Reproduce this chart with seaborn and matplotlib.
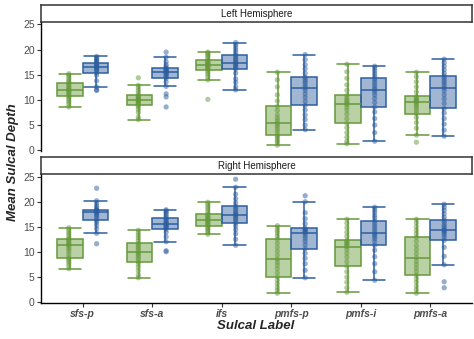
import matplotlib
matplotlib.use("Agg")
import matplotlib.pyplot as plt
import seaborn as sns
import pandas as pd
import numpy as np
from matplotlib.colors import to_rgba

# ---------------- data ----------------
labels = ["sfs-p", "sfs-a", "ifs", "pmfs-p", "pmfs-i", "pmfs-a"]
groups = ["Group 1", "Group 2"]
hemis = ["Left Hemisphere", "Right Hemisphere"]
colors = ["#66993A", "#2E5E9F"]

# Left hemisphere, group 1 (green)
L_sfsp_g1 = [8.6, 9.2, 9.6, 10.0, 10.4, 10.7, 11.0, 11.3, 11.6, 11.8, 12.0, 12.2, 12.5, 12.8, 13.1, 13.4, 13.7, 14.1, 14.5, 14.9, 15.2]
L_sfsa_g1 = [6.1, 6.6, 7.5, 8.1, 8.6, 8.9, 9.2, 9.4, 9.6, 9.8, 9.9, 10.1, 10.3, 10.5, 10.7, 10.9, 11.4, 11.9, 12.4, 12.9, 14.4]
L_ifs_g1 = [10.1, 14.0, 14.6, 15.1, 15.5, 15.9, 16.2, 16.4, 16.6, 16.8, 17.0, 17.2, 17.4, 17.5, 17.7, 17.9, 18.3, 18.7, 19.0, 19.3, 19.5]
L_pmfsp_g1 = [1.0, 1.5, 1.9, 2.3, 2.7, 3.0, 3.6, 4.1, 4.6, 5.0, 5.4, 5.9, 6.4, 7.0, 7.9, 8.7, 9.8, 11.0, 12.6, 14.0, 15.5]
L_pmfsi_g1 = [1.3, 1.8, 2.6, 3.5, 4.5, 5.4, 6.3, 7.2, 8.0, 8.6, 9.1, 9.4, 9.7, 10.0, 10.4, 10.9, 11.9, 13.0, 14.3, 15.6, 17.1]
L_pmfsa_g1 = [1.6, 3.0, 4.4, 5.5, 6.5, 7.3, 7.9, 8.4, 8.8, 9.2, 9.5, 9.7, 9.9, 10.1, 10.4, 10.7, 11.6, 12.6, 13.6, 14.6, 15.5]
# Left hemisphere, group 2 (blue)
L_sfsp_g2 = [11.9, 12.0, 12.6, 13.8, 14.9, 15.4, 15.7, 16.0, 16.2, 16.4, 16.5, 16.7, 16.9, 17.1, 17.2, 17.4, 17.7, 17.9, 18.2, 18.4, 18.65]
L_sfsa_g2 = [8.6, 10.6, 11.2, 12.7, 13.6, 14.3, 14.6, 14.9, 15.1, 15.3, 15.5, 15.7, 15.8, 16.0, 16.1, 16.3, 16.6, 17.0, 17.6, 18.5, 19.5]
L_ifs_g2 = [12.0, 12.6, 13.5, 14.2, 15.3, 16.1, 16.4, 16.7, 16.9, 17.2, 17.4, 17.7, 18.0, 18.3, 18.7, 19.0, 19.5, 20.0, 20.5, 21.0, 21.4]
L_pmfsp_g2 = [4.1, 5.0, 6.1, 7.0, 8.0, 8.9, 9.7, 10.5, 11.2, 11.9, 12.4, 12.8, 13.3, 13.7, 14.1, 14.5, 15.3, 16.2, 17.0, 18.0, 19.0]
L_pmfsi_g2 = [1.8, 3.5, 5.0, 6.3, 7.6, 8.6, 9.5, 10.3, 11.0, 11.6, 12.0, 12.4, 12.9, 13.4, 13.9, 14.3, 14.8, 15.3, 15.8, 16.3, 16.7]
L_pmfsa_g2 = [2.8, 4.0, 5.2, 6.3, 7.4, 8.3, 9.3, 10.2, 11.0, 11.8, 12.4, 12.9, 13.4, 13.8, 14.3, 14.7, 15.3, 16.0, 16.7, 17.4, 18.1]
# Right hemisphere, group 1 (green)
R_sfsp_g1 = [6.6, 7.2, 7.7, 8.1, 8.5, 8.8, 9.4, 10.0, 10.5, 10.9, 11.3, 11.5, 11.8, 12.1, 12.4, 12.6, 13.0, 13.5, 13.9, 14.4, 14.8]
R_sfsa_g1 = [4.8, 5.4, 6.2, 6.9, 7.5, 8.0, 8.5, 8.9, 9.3, 9.6, 9.9, 10.3, 10.7, 11.0, 11.4, 11.7, 12.3, 12.8, 13.3, 13.8, 14.3]
R_ifs_g1 = [13.5, 13.9, 14.3, 14.6, 14.9, 15.2, 15.5, 15.7, 15.9, 16.2, 16.4, 16.6, 16.8, 17.0, 17.3, 17.6, 18.1, 18.6, 19.0, 19.5, 19.9]
R_pmfsp_g1 = [1.7, 2.3, 2.9, 3.6, 4.3, 5.0, 5.8, 6.6, 7.3, 7.9, 8.5, 9.3, 10.1, 10.9, 11.7, 12.5, 13.1, 13.7, 14.2, 14.7, 15.2]
R_pmfsi_g1 = [1.9, 2.8, 3.9, 4.9, 6.0, 7.1, 8.0, 8.9, 9.7, 10.4, 11.0, 11.3, 11.5, 11.8, 12.0, 12.3, 13.1, 13.9, 14.8, 15.7, 16.5]
R_pmfsa_g1 = [1.7, 2.4, 3.1, 3.9, 4.6, 5.3, 6.0, 6.7, 7.4, 8.1, 8.8, 9.6, 10.4, 11.2, 12.1, 12.9, 13.6, 14.3, 15.0, 15.8, 16.5]
# Right hemisphere, group 2 (blue)
R_sfsp_g2 = [11.6, 13.7, 14.6, 15.3, 15.9, 16.3, 16.7, 17.1, 17.4, 17.7, 17.9, 18.0, 18.1, 18.2, 18.3, 18.4, 18.8, 19.2, 19.7, 20.2, 22.7]
R_sfsa_g2 = [10.0, 10.2, 12.0, 13.0, 13.9, 14.5, 14.8, 15.0, 15.2, 15.4, 15.6, 15.8, 16.0, 16.3, 16.6, 16.8, 17.2, 17.6, 17.9, 18.2, 18.4]
R_ifs_g2 = [11.3, 12.5, 13.6, 14.4, 15.1, 15.7, 16.1, 16.5, 16.8, 17.1, 17.4, 17.7, 18.0, 18.4, 18.8, 19.1, 19.8, 20.6, 21.5, 22.9, 24.5]
R_pmfsp_g2 = [4.8, 6.3, 7.6, 8.7, 9.7, 10.6, 11.4, 12.1, 12.7, 13.2, 13.7, 13.9, 14.1, 14.3, 14.5, 14.7, 15.6, 16.6, 17.8, 20.0, 21.2]
R_pmfsi_g2 = [4.3, 6.0, 7.6, 9.0, 10.3, 11.3, 12.0, 12.6, 13.0, 13.4, 13.7, 14.2, 14.7, 15.2, 15.7, 16.2, 16.8, 17.3, 17.9, 18.4, 18.9]
R_pmfsa_g2 = [2.8, 4.0, 7.4, 9.1, 10.9, 12.3, 12.9, 13.4, 13.8, 14.1, 14.3, 14.6, 15.0, 15.4, 15.9, 16.3, 16.9, 17.6, 18.3, 18.9, 19.5]

series = {
    ("Left Hemisphere", "Group 1"): [L_sfsp_g1, L_sfsa_g1, L_ifs_g1, L_pmfsp_g1, L_pmfsi_g1, L_pmfsa_g1],
    ("Left Hemisphere", "Group 2"): [L_sfsp_g2, L_sfsa_g2, L_ifs_g2, L_pmfsp_g2, L_pmfsi_g2, L_pmfsa_g2],
    ("Right Hemisphere", "Group 1"): [R_sfsp_g1, R_sfsa_g1, R_ifs_g1, R_pmfsp_g1, R_pmfsi_g1, R_pmfsa_g1],
    ("Right Hemisphere", "Group 2"): [R_sfsp_g2, R_sfsa_g2, R_ifs_g2, R_pmfsp_g2, R_pmfsi_g2, R_pmfsa_g2],
}
rows = []
for (hemi, grp), lists in series.items():
    for lab, vals in zip(labels, lists):
        for v in vals:
            rows.append({"hemi": hemi, "group": grp, "label": lab, "depth": v})
df = pd.DataFrame(rows)

# ---------------- plot ----------------
sns.set_style("white")
plt.rcParams["font.family"] = ["Liberation Sans", "DejaVu Sans"]

W, H = 474, 339
fig = plt.figure(figsize=(W / 100, H / 100), dpi=100)

def fr(x0, y0, x1, y1):
    return [x0 / W, 1 - y1 / H, (x1 - x0) / W, (y1 - y0) / H]

x0, x1 = 41, 472
layout = [
    ("Left Hemisphere", (5, 21.7), (21.7, 151.0), False),
    ("Right Hemisphere", (157.3, 174.0), (174.0, 302.5), True),
]
pal = dict(zip(groups, colors))


def side_color(xc):
    # left of category centre -> first group, right -> second group
    return colors[0] if (xc - np.round(xc)) < 0 else colors[1]


for hemi, (sy0, sy1), (py0, py1), show_x in layout:
    ax = fig.add_axes(fr(x0, py0, x1, py1))
    sub = df[df["hemi"] == hemi]
    sns.boxplot(data=sub, x="label", y="depth", hue="group", order=labels,
                hue_order=groups, palette=pal, fill=True, width=0.74,
                linewidth=1.1, showfliers=False, capwidths=0.32,
                legend=False, ax=ax, zorder=2)
    for p in ax.patches:
        verts = p.get_path().vertices
        xc = (verts[:, 0].min() + verts[:, 0].max()) / 2
        col = side_color(xc)
        p.set_facecolor(to_rgba(col, 0.45))
        p.set_edgecolor(col)
    for ln in ax.lines:
        xd = np.asarray(ln.get_xdata(), dtype=float)
        if xd.size == 0:
            continue
        ln.set_color(side_color(xd.mean()))
    sns.stripplot(data=sub, x="label", y="depth", hue="group", order=labels,
                  hue_order=groups, palette=pal, dodge=True, jitter=False,
                  size=3.8, alpha=0.5, linewidth=0, legend=False, ax=ax, zorder=3)
    ax.set_xlim(-0.6, 5.6)
    ax.set_ylim(-0.15, 25.55)
    ax.set_yticks([0, 5, 10, 15, 20, 25])
    ax.set_xlabel("")
    ax.set_ylabel("")
    for s in ["top", "right"]:
        ax.spines[s].set_visible(False)
    ax.spines["left"].set_color("black")
    ax.spines["left"].set_linewidth(1.0)
    ax.tick_params(axis="y", length=3, width=0.8, color="#333333",
                   labelsize=7.5, labelcolor="#4D4D4D", pad=1.5, left=True)
    if show_x:
        ax.spines["bottom"].set_color("black")
        ax.spines["bottom"].set_linewidth(1.0)
        ax.tick_params(axis="x", length=3, width=0.8, color="#333333",
                       labelsize=7.5, labelcolor="#4D4D4D", pad=2, bottom=True)
        for t in ax.get_xticklabels():
            t.set_fontweight("bold")
            t.set_fontstyle("italic")
    else:
        ax.spines["bottom"].set_visible(False)
        ax.set_xticks([])
    # strip
    sax = fig.add_axes(fr(x0, sy0, x1, sy1))
    sax.set_xticks([])
    sax.set_yticks([])
    for s in sax.spines.values():
        s.set_visible(True)
        s.set_color("#333333")
        s.set_linewidth(1.1)
    sax.text(0.5, 0.47, hemi, ha="center", va="center", fontsize=7,
             color="#1A1A1A", transform=sax.transAxes)

fig.text(13 / W, 1 - 162 / H, "Mean Sulcal Depth", rotation=90, ha="center",
         va="center", fontsize=9.5, fontweight="bold", fontstyle="italic")
fig.text(256 / W, 1 - 326 / H, "Sulcal Label", ha="center", va="center",
         fontsize=9.5, fontweight="bold", fontstyle="italic")

fig.savefig("out.png", dpi=100, facecolor="white")
